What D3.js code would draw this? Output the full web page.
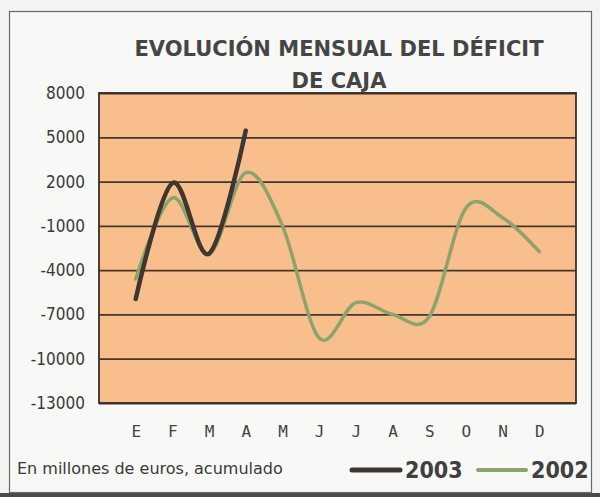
<!DOCTYPE html>
<html>
<head>
<meta charset="utf-8">
<script src="https://cdn.jsdelivr.net/npm/d3@7"></script>
<style>
  body { margin: 0; background: #ffffff; }
  svg { display: block; }
</style>
</head>
<body>
<div id="chart"></div>
<script>
// monthly cumulative cash deficit, millions of euros
var months = ["E", "F", "M", "A", "M", "J", "J", "A", "S", "O", "N", "D"];
var yTicks = [8000, 5000, 2000, -1000, -4000, -7000, -10000, -13000];
var values2003 = [-5950, 1900, -2880, 5450];
var values2002 = [-4600, 900, -2900, 2600, -1000, -8600, -6200, -7000, -7150, 200, -450, -2750];
var seriesNames = ["2003", "2002"];

(function() {
	'use strict';

	var width = 600,
		height = 497,
		plot = { left: 99, right: 576, top: 93, bottom: 403 },
		font = "'DejaVu Sans', sans-serif",
		condensed = "'DejaVu Sans Condensed', 'DejaVu Sans', sans-serif",
		darkColor = "#3e3631",
		greenColor = "#8ba46b";

	var svg = d3.select("#chart")
		.append("svg")
		.attr("width", width)
		.attr("height", height);

	// page + frame
	svg.append("rect")
		.attr("width", width).attr("height", height)
		.attr("fill", "#f3f3f1");
	svg.append("rect")
		.attr("x", 0).attr("y", 493)
		.attr("width", width).attr("height", 4)
		.attr("fill", "#4a4a46");
	svg.append("rect")
		.attr("x", 9.5).attr("y", 11.5)
		.attr("width", 582).attr("height", 481)
		.attr("fill", "#f8f8f6")
		.attr("stroke", "#6a6a6a")
		.attr("stroke-width", 1.2);

	var x = d3.scalePoint()
		.domain(d3.range(months.length))
		.range([plot.left, plot.right])
		.padding(1);

	var y = d3.scaleLinear()
		.domain([-13000, 8000])
		.range([plot.bottom, plot.top]);

	// title
	svg.append("text")
		.attr("x", 339).attr("y", 56)
		.attr("text-anchor", "middle")
		.attr("font-family", font)
		.attr("font-weight", "bold")
		.attr("font-size", 21)
		.attr("fill", "#454545")
		.text("EVOLUCIÓN MENSUAL DEL DÉFICIT");
	svg.append("text")
		.attr("x", 339).attr("y", 88)
		.attr("text-anchor", "middle")
		.attr("font-family", font)
		.attr("font-weight", "bold")
		.attr("font-size", 21)
		.attr("fill", "#454545")
		.text("DE CAJA");

	// plot area
	svg.append("rect")
		.attr("x", plot.left).attr("y", plot.top)
		.attr("width", plot.right - plot.left)
		.attr("height", plot.bottom - plot.top)
		.attr("fill", "#f8bf8d");

	var yAxis = d3.axisLeft(y)
		.tickValues(yTicks)
		.tickSize(-(plot.right - plot.left))
		.tickPadding(14)
		.tickFormat(function(d) { return d < 0 ? "-" + Math.abs(d) : String(d); });

	svg.append("g")
		.attr("transform", "translate(" + plot.left + ",0)")
		.call(yAxis)
		.call(function(g) { g.select(".domain").remove(); })
		.call(function(g) {
			g.selectAll(".tick line")
				.attr("stroke", "#46362c")
				.attr("stroke-width", 1.8);
			g.selectAll(".tick text")
				.attr("font-family", condensed)
				.attr("font-size", 17)
				.attr("fill", "#3a3a3a");
		});

	svg.append("rect")
		.attr("x", plot.left).attr("y", plot.top)
		.attr("width", plot.right - plot.left)
		.attr("height", plot.bottom - plot.top)
		.attr("fill", "none")
		.attr("stroke", "#3a2e28")
		.attr("stroke-width", 1.8);

	var xAxis = d3.axisBottom(x)
		.tickSize(0)
		.tickPadding(23)
		.tickFormat(function(i) { return months[i]; });

	svg.append("g")
		.attr("transform", "translate(0," + plot.bottom + ")")
		.call(xAxis)
		.call(function(g) { g.select(".domain").remove(); })
		.call(function(g) {
			g.selectAll(".tick text")
				.attr("font-family", "'DejaVu Sans Mono', monospace")
				.attr("font-size", 16)
				.attr("fill", "#444");
		});

	var line = d3.line()
		.x(function(d, i) { return x(i); })
		.y(function(d) { return y(d); })
		.curve(d3.curveCardinal.tension(0));

	svg.append("path")
		.datum(values2002)
		.attr("fill", "none")
		.attr("stroke", greenColor)
		.attr("stroke-width", 3.5)
		.attr("stroke-linecap", "round")
		.attr("d", line);

	svg.append("path")
		.datum(values2003)
		.attr("fill", "none")
		.attr("stroke", darkColor)
		.attr("stroke-width", 4.5)
		.attr("stroke-linecap", "round")
		.attr("d", line);

	// footer note
	svg.append("text")
		.attr("x", 17).attr("y", 474)
		.attr("font-family", font)
		.attr("font-size", 16)
		.attr("fill", "#3a3a3a")
		.text("En millones de euros, acumulado");

	// legend
	var legend = svg.append("g").attr("class", "legend");
	var legendItems = [
		{ name: seriesNames[0], color: darkColor, width: 5, x: 352 },
		{ name: seriesNames[1], color: greenColor, width: 4, x: 478 }
	];
	legendItems.forEach(function(item) {
		legend.append("line")
			.attr("x1", item.x).attr("x2", item.x + 48)
			.attr("y1", 470).attr("y2", 470)
			.attr("stroke", item.color)
			.attr("stroke-width", item.width)
			.attr("stroke-linecap", "round");
		legend.append("text")
			.attr("x", item.x + 53).attr("y", 478)
			.attr("font-family", condensed)
			.attr("font-weight", "bold")
			.attr("font-size", 23)
			.attr("fill", "#404040")
			.text(item.name);
	});
})();
</script>
</body>
</html>
